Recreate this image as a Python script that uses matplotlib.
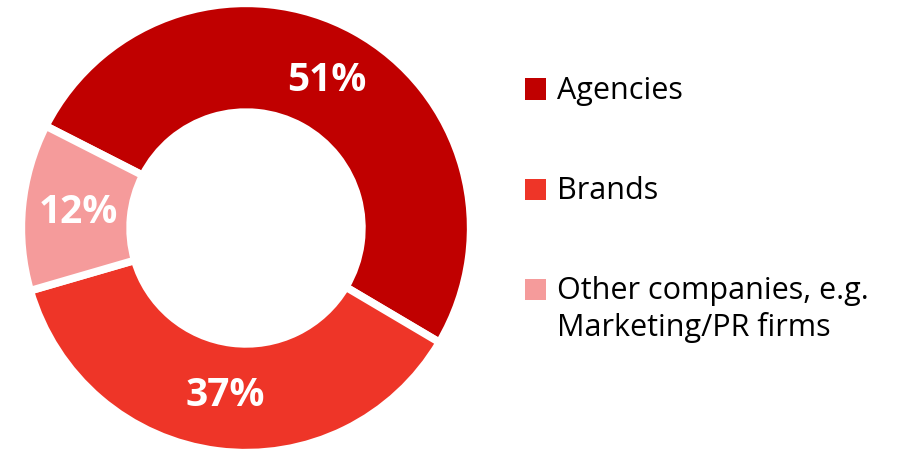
import matplotlib.pyplot as plt
from matplotlib.patches import Rectangle

categories = ['Agencies', 'Brands', 'Other companies, e.g.\nMarketing/PR firms']
shares = [51, 37, 12]
colors = ['#C00000', '#EE3528', '#F59B9B']

FONT = ['Open Sans', 'DejaVu Sans']
W, H = 911, 449
fig = plt.figure(figsize=(W / 100, H / 100), dpi=100)

# donut, centre ~ (246, 228) px, radius ~222 px
cx, cy, r = 246, 228, 222
ax = fig.add_axes([(cx - r) / W, (H - cy - r) / H, 2 * r / W, 2 * r / H])
wedges, texts, autotexts = ax.pie(
    shares, colors=colors, startangle=153, counterclock=False, radius=1.012,
    autopct='%d%%', pctdistance=0.75,
    wedgeprops=dict(width=0.49, edgecolor='white', linewidth=5.5),
    textprops=dict(color='white', fontsize=28, fontweight='bold', family=FONT))
ax.set_xlim(-1, 1)
ax.set_ylim(-1, 1)
ax.set_aspect('equal')
ax.axis('off')

# legend on the right
sq = 21
rows = [89, 189, 289]
for cat, col, yc in zip(categories, colors, rows):
    fig.patches.append(Rectangle((525 / W, 1 - (yc + sq / 2) / H), sq / W, sq / H,
                                 transform=fig.transFigure, facecolor=col, edgecolor='none'))
    for i, line in enumerate(cat.split('\n')):
        fig.text(557 / W, 1 - (yc + 10 + 37 * i) / H, line, fontsize=22, va='baseline',
                 ha='left', family=FONT, color='black')

fig.savefig('out.png', dpi=100)
